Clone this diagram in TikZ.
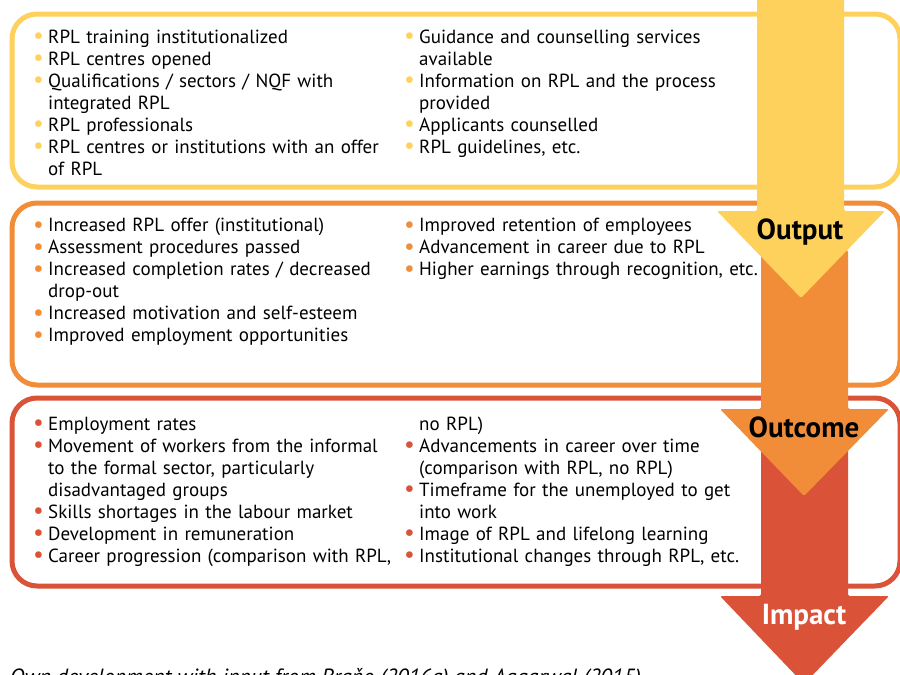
\documentclass[tikz,border=0pt]{standalone}
\usepackage{fontspec}
\setmainfont{PT Sans}
\usetikzlibrary{positioning}
\definecolor{RplYellow}{HTML}{FDD15B}
\definecolor{RplOrange}{HTML}{F18D38}
\definecolor{RplRed}{HTML}{DA5338}
\setlength{\parindent}{0pt}
\newcommand{\bu}[1]{\makebox[14pt][l]{\hspace*{-1pt}\rlap{\raisebox{-0.8pt}{\textcolor{#1}{\scalebox{1.25}{\textbullet}}}}}}
\newcommand{\ind}{\hspace*{14pt}}

\begin{document}
\begin{tikzpicture}[x=1pt,y=-1pt,
  frame/.style={line width=5pt,rounded corners=25pt},
  arr/.style={rounded corners=2pt},
  col/.style={anchor=base west,inner sep=0pt,text width=400pt,align=left,font=\fontsize{19}{22}\selectfont},
  lbl/.style={inner sep=0pt,font=\fontsize{29}{29}\selectfont\bfseries}]
  \useasboundingbox (0,0) rectangle (900,675);
  \clip (0,0) rectangle (900,675);
  % frames
  \draw[frame,RplYellow] (12,14) rectangle (900,187);
  \draw[frame,RplOrange] (12,203) rectangle (900,385);
  \draw[frame,RplRed] (12,398) rectangle (900,586);
  % arrows, bottom one first
  \fill[arr,RplRed] (761,440) -- (761,596) -- (720,596) -- (804,684) -- (889,596) -- (848,596) -- (848,440) -- cycle;
  \fill[arr,RplOrange] (761,250) -- (761,409) -- (720,409) -- (804,496) -- (889,409) -- (848,409) -- (848,250) -- cycle;
  \fill[arr,RplYellow] (757,-10) -- (757,211) -- (717,211) -- (801,298) -- (885,211) -- (844,211) -- (844,-10) -- cycle;
  \node[lbl] (out) at (800,232) {Output};
  \node[lbl] (oc) at (804,427) {Outcome};
  \node[lbl,text=white] (imp) at (804,617) {Impact};
  % output
  \node[col] (y1) at (34,43) {\bu{RplYellow}RPL training institutionalized\\
    \bu{RplYellow}RPL centres opened\\
    \bu{RplYellow}Qualifications / sectors / NQF with\\
    \ind integrated RPL\\
    \bu{RplYellow}RPL professionals\\
    \bu{RplYellow}RPL centres or institutions with an offer\\
    \ind of RPL};
  \node[col] (y2) at (405,43) {\bu{RplYellow}Guidance and counselling services\\
    \ind available\\
    \bu{RplYellow}Information on RPL and the process\\
    \ind provided\\
    \bu{RplYellow}Applicants counselled\\
    \bu{RplYellow}RPL guidelines, etc.};
  % outcome
  \node[col] (o1) at (34,231.7) {\bu{RplOrange}Increased RPL offer (institutional)\\
    \bu{RplOrange}Assessment procedures passed\\
    \bu{RplOrange}Increased completion rates / decreased\\
    \ind drop-out\\
    \bu{RplOrange}Increased motivation and self-esteem\\
    \bu{RplOrange}Improved employment opportunities};
  \node[col] (o2) at (405,231.7) {\bu{RplOrange}Improved retention of employees\\
    \bu{RplOrange}Advancement in career due to RPL\\
    \bu{RplOrange}Higher earnings through recognition, etc.};
  % impact
  \node[col] (r1) at (34,430) {\bu{RplRed}Employment rates\\
    \bu{RplRed}Movement of workers from the informal\\
    \ind to the formal sector, particularly\\
    \ind disadvantaged groups\\
    \bu{RplRed}Skills shortages in the labour market\\
    \bu{RplRed}Development in remuneration\\
    \bu{RplRed}Career progression (comparison with RPL,};
  \node[col] (r2) at (405,430) {\ind no RPL)\\
    \bu{RplRed}Advancements in career over time\\
    \ind (comparison with RPL, no RPL)\\
    \bu{RplRed}Timeframe for the unemployed to get\\
    \ind into work\\
    \bu{RplRed}Image of RPL and lifelong learning\\
    \bu{RplRed}Institutional changes through RPL, etc.};
  \node[anchor=base west,inner sep=0pt,font=\fontsize{22}{22}\selectfont\itshape] (src) at (10,684)
    {Own development with input from Braňo (2016a) and Aggarwal (2015)};
\end{tikzpicture}
\end{document}
